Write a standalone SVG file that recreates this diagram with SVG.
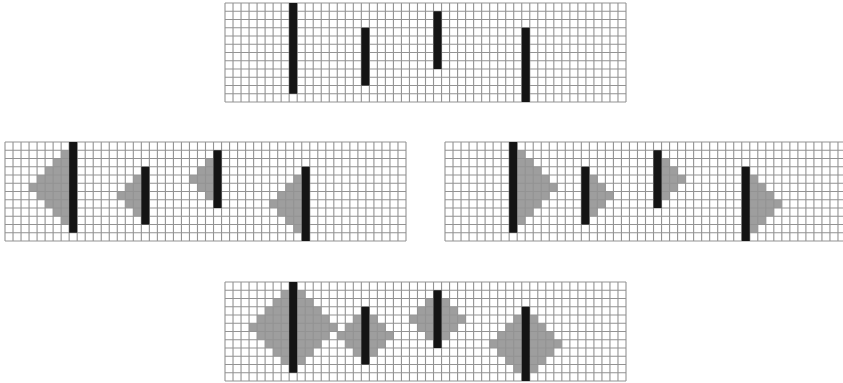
<svg xmlns="http://www.w3.org/2000/svg" xmlns:xlink="http://www.w3.org/1999/xlink" width="843" height="383" viewBox="0 0 843 383">
<style>
.bg{fill:#fff}
.lines{fill:none;stroke:#939393;stroke-width:1.1}
.shade{fill:#9e9e9e}
.bar{fill:#141414}
</style>
<defs>
<path id="gridlines" d="M0,0v99m8.02-99v99m8.02-99v99m8.02-99v99m8.02-99v99m8.02-99v99m8.02-99v99m8.02-99v99m8.02-99v99m8.02-99v99m8.02-99v99m8.02-99v99m8.02-99v99m8.02-99v99m8.02-99v99m8.02-99v99m8.02-99v99m8.02-99v99m8.02-99v99m8.02-99v99m8.02-99v99m8.02-99v99m8.02-99v99m8.02-99v99m8.02-99v99m8.02-99v99m8.02-99v99m8.02-99v99m8.02-99v99m8.02-99v99m8.02-99v99m8.02-99v99m8.02-99v99m8.02-99v99m8.02-99v99m8.02-99v99m8.02-99v99m8.02-99v99m8.02-99v99m8.02-99v99m8.02-99v99m8.02-99v99m8.02-99v99m8.02-99v99m8.02-99v99m8.02-99v99m8.02-99v99m8.02-99v99m8.02-99v99m8.02-99v99m8.02-99v99M0,0h401m-401,8.25h401m-401,8.25h401m-401,8.25h401m-401,8.25h401m-401,8.25h401m-401,8.25h401m-401,8.25h401m-401,8.25h401m-401,8.25h401m-401,8.25h401m-401,8.25h401m-401,8.25h401"/>
<polygon id="L5" points="0,-4 -1,-4 -1,-3 -2,-3 -2,-2 -3,-2 -3,-1 -4,-1 -4,0 -5,0 -5,1 -4,1 -4,2 -3,2 -3,3 -2,3 -2,4 -1,4 -1,5 0,5"/>
<polygon id="L4" points="0,-3 -1,-3 -1,-2 -2,-2 -2,-1 -3,-1 -3,0 -4,0 -4,1 -3,1 -3,2 -2,2 -2,3 -1,3 -1,4 0,4"/>
<polygon id="L3" points="0,-2 -1,-2 -1,-1 -2,-1 -2,0 -3,0 -3,1 -2,1 -2,2 -1,2 -1,3 0,3"/>
<g id="leftTri" class="shade">
<use xlink:href="#L5" transform="translate(8,5)"/>
<use xlink:href="#L3" transform="translate(17,6)"/>
<use xlink:href="#L3" transform="translate(26,4)"/>
<use xlink:href="#L4" transform="translate(37,7)"/>
</g>
<g id="rightTri" class="shade">
<use xlink:href="#L5" transform="translate(9,5) scale(-1,1)"/>
<use xlink:href="#L3" transform="translate(18,6) scale(-1,1)"/>
<use xlink:href="#L3" transform="translate(27,4) scale(-1,1)"/>
<use xlink:href="#L4" transform="translate(38,7) scale(-1,1)"/>
</g>
<g id="bars" class="bar">
<rect x="8" y="0" width="1" height="11"/>
<rect x="17" y="3" width="1" height="7"/>
<rect x="26" y="1" width="1" height="7"/>
<rect x="37" y="3" width="1" height="9"/>
</g>
</defs>

<g id="grid-top">
<rect class="bg" x="225" y="3" width="401" height="99"/>
<use xlink:href="#gridlines" class="lines" x="225" y="3"/>
<g transform="translate(225,3) scale(8.02,8.25)"><use xlink:href="#bars"/></g>
</g>

<g id="grid-left">
<rect class="bg" x="5" y="142" width="401" height="99"/>
<g transform="translate(5,142) scale(8.02,8.25)"><use xlink:href="#leftTri"/></g>
<use xlink:href="#gridlines" class="lines" x="5" y="142"/>
<g transform="translate(5,142) scale(8.02,8.25)"><use xlink:href="#bars"/></g>
</g>

<g id="grid-right">
<rect class="bg" x="445" y="142" width="401" height="99"/>
<g transform="translate(445,142) scale(8.02,8.25)"><use xlink:href="#rightTri"/></g>
<use xlink:href="#gridlines" class="lines" x="445" y="142"/>
<g transform="translate(445,142) scale(8.02,8.25)"><use xlink:href="#bars"/></g>
</g>

<g id="grid-bottom">
<rect class="bg" x="225" y="282" width="401" height="99"/>
<g transform="translate(225,282) scale(8.02,8.25)"><use xlink:href="#leftTri"/><use xlink:href="#rightTri"/></g>
<use xlink:href="#gridlines" class="lines" x="225" y="282"/>
<g transform="translate(225,282) scale(8.02,8.25)"><use xlink:href="#bars"/></g>
</g>
</svg>
